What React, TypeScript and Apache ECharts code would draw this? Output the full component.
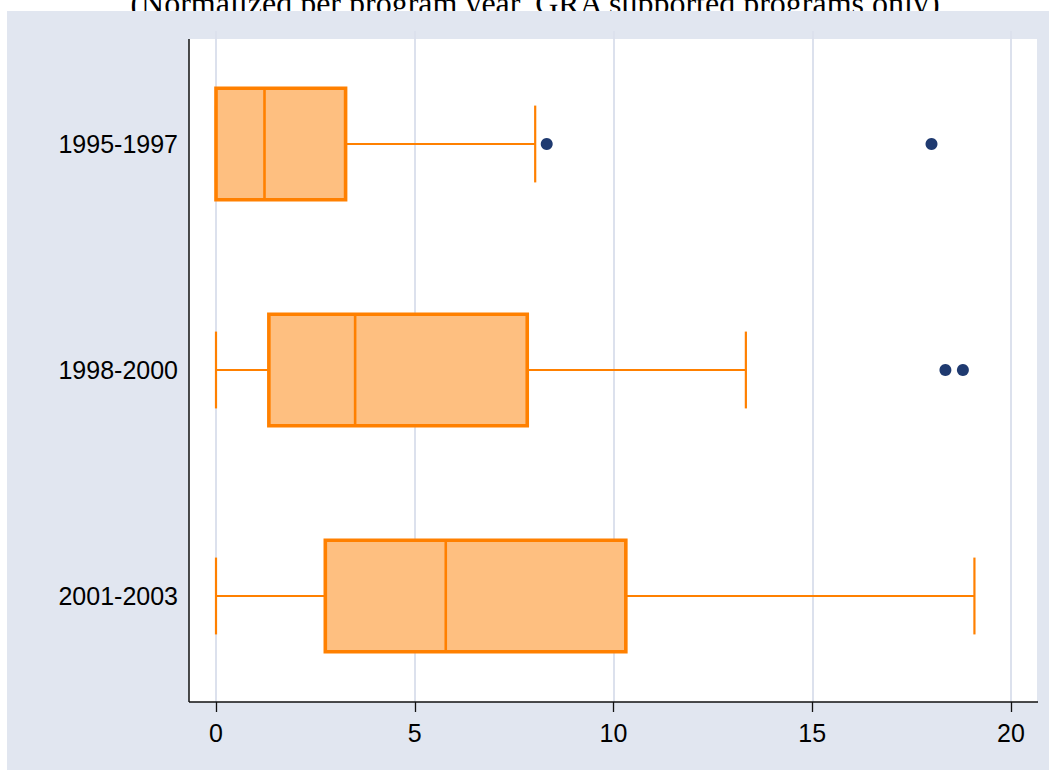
import React, { useEffect, useRef } from "react";
import * as echarts from "echarts";

const titleText = "(Normalized per program year, GRA supported programs only)";
const categories = ["1995-1997", "1998-2000", "2001-2003"];
const whiskerLow = [0, 0, 0];
const quartile1 = [0, 1.33, 2.75];
const medians = [1.22, 3.5, 5.78];
const quartile3 = [3.26, 7.83, 10.31];
const whiskerHigh = [8.03, 13.33, 19.08];
const outlierValues = [8.32, 18.0, 18.35, 18.79];
const outlierCategories = ["1995-1997", "1995-1997", "1998-2000", "1998-2000"];
const xMin = 0;
const xMax = 20;
const xInterval = 5;

const ORANGE = "#FF8000";
const FILL = "#FEBF80";
const NAVY = "#1F3A70";
const BG = "#E1E6F0";
const GRID = "#DCE1ED";

export default function App() {
  const ref = useRef<HTMLDivElement>(null);

  useEffect(() => {
    document.body.style.margin = "0";
    if (!ref.current) return;
    const chart = echarts.init(ref.current, null, { renderer: "svg" });

    const boxData = categories.map((c, i) => [
      c,
      whiskerLow[i],
      quartile1[i],
      medians[i],
      quartile3[i],
      whiskerHigh[i],
    ]);
    const outlierData = outlierValues.map((v, i) => [v, outlierCategories[i]]);

    const option: any = {
      animation: false,
      backgroundColor: "#ffffff",
      grid: { left: 216, right: 38, top: 31, bottom: 61, containLabel: false },
      xAxis: {
        type: "value",
        min: xMin,
        max: xMax,
        interval: xInterval,
        offset: -7,
        axisLine: { show: false },
        axisTick: { show: true, length: 10, lineStyle: { color: "#111", width: 1.3 } },
        axisLabel: {
          margin: 18,
          fontSize: 25,
          fontFamily: "Liberation Sans, Arial, sans-serif",
          color: "#000",
        },
        splitLine: { show: true, lineStyle: { color: GRID, width: 2 } },
      },
      yAxis: {
        type: "category",
        data: categories,
        inverse: true,
        offset: 27,
        axisLine: { show: false },
        axisTick: { show: false },
        axisLabel: {
          margin: 11,
          fontSize: 25,
          fontFamily: "Liberation Sans, Arial, sans-serif",
          color: "#000",
        },
        splitLine: { show: false },
      },
      graphic: [
        {
          type: "text",
          z: -20,
          x: 535,
          y: 3,
          style: {
            text: titleText,
            fontSize: 32,
            fontFamily: "Liberation Serif, Times New Roman, serif",
            fill: "#000",
            align: "center",
            verticalAlign: "middle",
          },
        },
        {
          type: "rect",
          z: -10,
          shape: { x: 7, y: 11, width: 1049 - 7, height: 770 - 11 },
          style: { fill: BG },
        },
        {
          type: "rect",
          z: -5,
          shape: { x: 189, y: 39, width: 1037 - 189, height: 702 - 39 },
          style: { fill: "#ffffff" },
        },
        {
          type: "line",
          z: 10,
          shape: { x1: 189, y1: 39, x2: 189, y2: 702 },
          style: { stroke: "#111", lineWidth: 1.5 },
        },
        {
          type: "line",
          z: 10,
          shape: { x1: 189, y1: 702, x2: 1038, y2: 702 },
          style: { stroke: "#111", lineWidth: 1.5 },
        },
      ],
      series: [
        {
          type: "custom",
          encode: { y: 0, x: [1, 2, 3, 4, 5] },
          data: boxData,
          z: 3,
          renderItem: (params: any, api: any) => {
            const cat = api.value(0);
            const lo = api.coord([api.value(1), cat]);
            const p1 = api.coord([api.value(2), cat]);
            const pm = api.coord([api.value(3), cat]);
            const p3 = api.coord([api.value(4), cat]);
            const hi = api.coord([api.value(5), cat]);
            const band = api.size([0, 1])[1];
            const boxH = band * 0.494;
            const capH = band * 0.34;
            const cy = p1[1];
            const lineStyle = { stroke: ORANGE, lineWidth: 2.2 };
            return {
              type: "group",
              children: [
                { type: "line", shape: { x1: lo[0], y1: cy, x2: p1[0], y2: cy }, style: lineStyle },
                { type: "line", shape: { x1: p3[0], y1: cy, x2: hi[0], y2: cy }, style: lineStyle },
                { type: "line", shape: { x1: lo[0], y1: cy - capH / 2, x2: lo[0], y2: cy + capH / 2 }, style: lineStyle },
                { type: "line", shape: { x1: hi[0], y1: cy - capH / 2, x2: hi[0], y2: cy + capH / 2 }, style: lineStyle },
                {
                  type: "rect",
                  shape: { x: p1[0], y: cy - boxH / 2, width: p3[0] - p1[0], height: boxH },
                  style: { fill: FILL, stroke: ORANGE, lineWidth: 3.6 },
                },
                {
                  type: "line",
                  shape: { x1: pm[0], y1: cy - boxH / 2, x2: pm[0], y2: cy + boxH / 2 },
                  style: { stroke: ORANGE, lineWidth: 2.6 },
                },
              ],
            };
          },
        },
        {
          type: "scatter",
          data: outlierData,
          symbol: "circle",
          symbolSize: 12,
          itemStyle: { color: NAVY, opacity: 1 },
          z: 4,
        },
      ],
    };

    chart.setOption(option);
    return () => chart.dispose();
  }, []);

  return <div ref={ref} style={{ width: 1049, height: 770 }} />;
}
